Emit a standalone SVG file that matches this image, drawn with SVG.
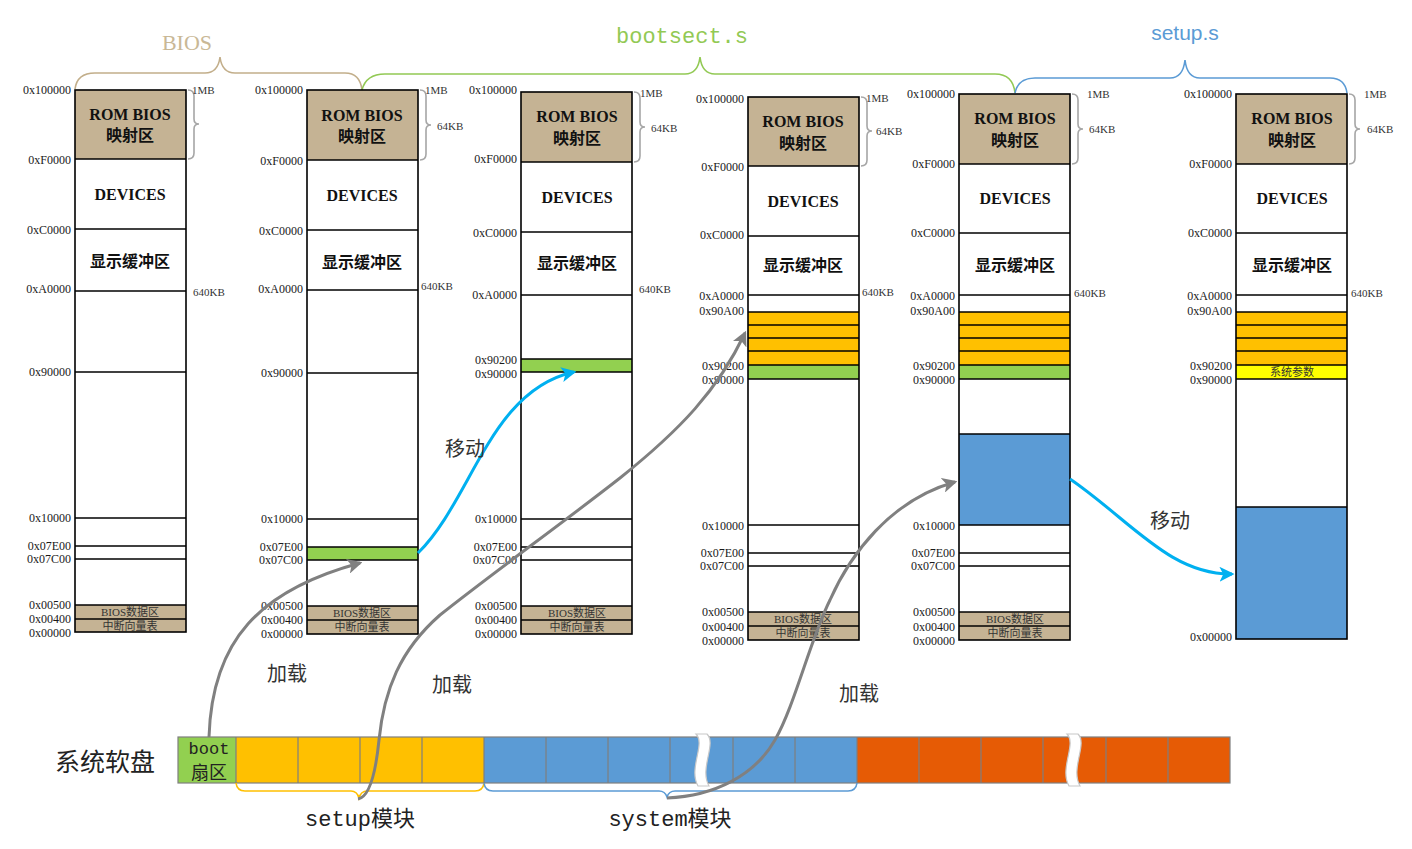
<svg xmlns="http://www.w3.org/2000/svg" width="1412" height="849" viewBox="0 0 1412 849">
<defs>
<style>
.bg{fill:#ffffff}
.col{fill:none;stroke:#000;stroke-width:1.6}
.ln{stroke:#000;stroke-width:1.6}
.rom{fill:#c5b394}
.tan{fill:#c5b394}
.grn{fill:#92d050}
.org{fill:#ffc000}
.blu{fill:#5b9bd5}
.yel{fill:#ffff00}
.addr{font-family:"Liberation Serif",serif;font-size:12px;text-anchor:end;dominant-baseline:central;fill:#1a1a1a}
.rl{font-family:"Liberation Serif",serif;font-size:11px;dominant-baseline:central;fill:#333}
.t1{font-family:"Liberation Serif",serif;font-weight:bold;font-size:16px;text-anchor:middle;dominant-baseline:central;fill:#111}
.t2{font-family:"Noto Sans CJK SC",sans-serif;font-weight:bold;font-size:16px;text-anchor:middle;dominant-baseline:central;fill:#111}
.t3{font-family:"Liberation Serif","Noto Sans CJK SC",serif;font-size:11px;text-anchor:middle;dominant-baseline:central;fill:#333}
.lab{font-family:"Noto Sans CJK SC",sans-serif;font-size:20px;text-anchor:middle;dominant-baseline:central;fill:#333}
.rb{fill:none;stroke:#a6a6a6;stroke-width:1.6}
.cell{stroke:#7f7f7f;stroke-width:1.2}
.garr{fill:none;stroke:#808080;stroke-width:3}
.barr{fill:none;stroke:#00b0f0;stroke-width:3}
</style>
<marker id="ag" viewBox="0 0 12 12" refX="10" refY="6" markerWidth="15" markerHeight="15" markerUnits="userSpaceOnUse" orient="auto">
<path d="M0,0 L12,6 L0,12 L3,6 z" fill="#808080"/>
</marker>
<marker id="ab" viewBox="0 0 12 12" refX="10" refY="6" markerWidth="15" markerHeight="15" markerUnits="userSpaceOnUse" orient="auto">
<path d="M0,0 L12,6 L0,12 L3,6 z" fill="#00b0f0"/>
</marker>
</defs>
<rect class="bg" x="0" y="0" width="1412" height="849"/>

<!-- top braces -->
<g id="phase-labels">
<path d="M75,89 Q77,73 95,73 L205,73 Q218,73 220,57 Q222,73 235,73 L345,73 Q360,73 362,90" fill="none" stroke="#c2ae8a" stroke-width="1.6"/>
<text x="187" y="50" font-family="'Liberation Serif',serif" font-size="22" text-anchor="middle" fill="#c9b896">BIOS</text>
<path d="M362,90 Q366,74 385,74 L685,74 Q698,74 700,57 Q702,74 715,74 L995,74 Q1013,74 1015,93" fill="none" stroke="#92c954" stroke-width="1.6"/>
<text x="682" y="43" font-family="'Liberation Mono',monospace" font-size="22" text-anchor="middle" fill="#92c954">bootsect.s</text>
<path d="M1015,93 Q1018,78 1035,78 L1170,78 Q1183,78 1185,60 Q1187,78 1200,78 L1330,78 Q1345,78 1347,93" fill="none" stroke="#5b9bd5" stroke-width="1.6"/>
<text x="1185" y="40" font-family="'Liberation Sans',sans-serif" font-size="21" text-anchor="middle" fill="#5b9bd5">setup.s</text>
</g>

<!-- column 1 -->
<g id="mem1">
<rect class="rom" x="75" y="90" width="111" height="69"/>
<rect class="tan" x="75" y="605" width="111" height="27"/>
<line class="ln" x1="75" y1="159" x2="186" y2="159"/>
<line class="ln" x1="75" y1="229" x2="186" y2="229"/>
<line class="ln" x1="75" y1="291" x2="186" y2="291"/>
<line class="ln" x1="75" y1="372" x2="186" y2="372"/>
<line class="ln" x1="75" y1="518" x2="186" y2="518"/>
<line class="ln" x1="75" y1="546" x2="186" y2="546"/>
<line class="ln" x1="75" y1="559" x2="186" y2="559"/>
<line class="ln" x1="75" y1="605" x2="186" y2="605"/>
<line class="ln" x1="75" y1="619" x2="186" y2="619"/>
<rect class="col" x="75" y="90" width="111" height="542"/>
<text class="t1" x="130" y="114">ROM BIOS</text>
<text class="t2" x="130" y="134">映射区</text>
<text class="t1" x="130" y="194">DEVICES</text>
<text class="t2" x="130" y="260">显示缓冲区</text>
<text class="t3" x="130" y="612">BIOS数据区</text>
<text class="t3" x="130" y="626">中断向量表</text>
<path class="rb" d="M188,90 Q194,90 194,96 L194,119 Q194,124 199,124 Q194,124 194,129 L194,153 Q194,159 188,159"/>
<text class="rl" x="192" y="90">1MB</text>
<text class="rl" x="193" y="292">640KB</text>
<text class="addr" x="71" y="90">0x100000</text>
<text class="addr" x="71" y="160">0xF0000</text>
<text class="addr" x="71" y="230">0xC0000</text>
<text class="addr" x="71" y="289">0xA0000</text>
<text class="addr" x="71" y="372">0x90000</text>
<text class="addr" x="71" y="518">0x10000</text>
<text class="addr" x="71" y="546">0x07E00</text>
<text class="addr" x="71" y="559">0x07C00</text>
<text class="addr" x="71" y="605">0x00500</text>
<text class="addr" x="71" y="619">0x00400</text>
<text class="addr" x="71" y="633">0x00000</text>
</g>

<!-- column 2 -->
<g id="mem2">
<rect class="rom" x="307" y="90" width="111" height="70"/>
<rect class="grn" x="307" y="547" width="111" height="13"/>
<rect class="tan" x="307" y="606" width="111" height="28"/>
<line class="ln" x1="307" y1="160" x2="418" y2="160"/>
<line class="ln" x1="307" y1="230" x2="418" y2="230"/>
<line class="ln" x1="307" y1="290" x2="418" y2="290"/>
<line class="ln" x1="307" y1="373" x2="418" y2="373"/>
<line class="ln" x1="307" y1="519" x2="418" y2="519"/>
<line class="ln" x1="307" y1="547" x2="418" y2="547"/>
<line class="ln" x1="307" y1="560" x2="418" y2="560"/>
<line class="ln" x1="307" y1="606" x2="418" y2="606"/>
<line class="ln" x1="307" y1="620" x2="418" y2="620"/>
<rect class="col" x="307" y="90" width="111" height="544"/>
<text class="t1" x="362" y="115">ROM BIOS</text>
<text class="t2" x="362" y="135">映射区</text>
<text class="t1" x="362" y="195">DEVICES</text>
<text class="t2" x="362" y="261">显示缓冲区</text>
<text class="t3" x="362" y="613">BIOS数据区</text>
<text class="t3" x="362" y="627">中断向量表</text>
<path class="rb" d="M420,90 Q426,90 426,96 L426,120 Q426,125 431,125 Q426,125 426,130 L426,154 Q426,160 420,160"/>
<text class="rl" x="425" y="90">1MB</text>
<text class="rl" x="437" y="126">64KB</text>
<text class="rl" x="421" y="286">640KB</text>
<text class="addr" x="303" y="90">0x100000</text>
<text class="addr" x="303" y="161">0xF0000</text>
<text class="addr" x="303" y="231">0xC0000</text>
<text class="addr" x="303" y="289">0xA0000</text>
<text class="addr" x="303" y="373">0x90000</text>
<text class="addr" x="303" y="519">0x10000</text>
<text class="addr" x="303" y="547">0x07E00</text>
<text class="addr" x="303" y="560">0x07C00</text>
<text class="addr" x="303" y="606">0x00500</text>
<text class="addr" x="303" y="620">0x00400</text>
<text class="addr" x="303" y="634">0x00000</text>
</g>

<!-- column 3 -->
<g id="mem3">
<rect class="rom" x="521" y="92" width="111" height="70"/>
<rect class="grn" x="521" y="359" width="111" height="13"/>
<rect class="tan" x="521" y="606" width="111" height="28"/>
<line class="ln" x1="521" y1="162" x2="632" y2="162"/>
<line class="ln" x1="521" y1="232" x2="632" y2="232"/>
<line class="ln" x1="521" y1="295" x2="632" y2="295"/>
<line class="ln" x1="521" y1="359" x2="632" y2="359"/>
<line class="ln" x1="521" y1="372" x2="632" y2="372"/>
<line class="ln" x1="521" y1="519" x2="632" y2="519"/>
<line class="ln" x1="521" y1="547" x2="632" y2="547"/>
<line class="ln" x1="521" y1="560" x2="632" y2="560"/>
<line class="ln" x1="521" y1="606" x2="632" y2="606"/>
<line class="ln" x1="521" y1="620" x2="632" y2="620"/>
<rect class="col" x="521" y="92" width="111" height="542"/>
<text class="t1" x="577" y="116">ROM BIOS</text>
<text class="t2" x="577" y="137">映射区</text>
<text class="t1" x="577" y="197">DEVICES</text>
<text class="t2" x="577" y="262">显示缓冲区</text>
<text class="t3" x="577" y="613">BIOS数据区</text>
<text class="t3" x="577" y="627">中断向量表</text>
<path class="rb" d="M634,92 Q640,92 640,98 L640,122 Q640,127 645,127 Q640,127 640,132 L640,156 Q640,162 634,162"/>
<text class="rl" x="640" y="93">1MB</text>
<text class="rl" x="651" y="128">64KB</text>
<text class="rl" x="639" y="289">640KB</text>
<text class="addr" x="517" y="90">0x100000</text>
<text class="addr" x="517" y="159">0xF0000</text>
<text class="addr" x="517" y="233">0xC0000</text>
<text class="addr" x="517" y="295">0xA0000</text>
<text class="addr" x="517" y="360">0x90200</text>
<text class="addr" x="517" y="374">0x90000</text>
<text class="addr" x="517" y="519">0x10000</text>
<text class="addr" x="517" y="547">0x07E00</text>
<text class="addr" x="517" y="560">0x07C00</text>
<text class="addr" x="517" y="606">0x00500</text>
<text class="addr" x="517" y="620">0x00400</text>
<text class="addr" x="517" y="634">0x00000</text>
</g>

<!-- column 4 -->
<g id="mem4">
<rect class="rom" x="748" y="97" width="111" height="69"/>
<rect class="org" x="748" y="312" width="111" height="53"/>
<rect class="grn" x="748" y="365" width="111" height="14"/>
<rect class="tan" x="748" y="612" width="111" height="28"/>
<line class="ln" x1="748" y1="166" x2="859" y2="166"/>
<line class="ln" x1="748" y1="236" x2="859" y2="236"/>
<line class="ln" x1="748" y1="295" x2="859" y2="295"/>
<line class="ln" x1="748" y1="312" x2="859" y2="312"/>
<line class="ln" x1="748" y1="325" x2="859" y2="325"/>
<line class="ln" x1="748" y1="338" x2="859" y2="338"/>
<line class="ln" x1="748" y1="351" x2="859" y2="351"/>
<line class="ln" x1="748" y1="365" x2="859" y2="365"/>
<line class="ln" x1="748" y1="379" x2="859" y2="379"/>
<line class="ln" x1="748" y1="525" x2="859" y2="525"/>
<line class="ln" x1="748" y1="553" x2="859" y2="553"/>
<line class="ln" x1="748" y1="566" x2="859" y2="566"/>
<line class="ln" x1="748" y1="612" x2="859" y2="612"/>
<line class="ln" x1="748" y1="626" x2="859" y2="626"/>
<rect class="col" x="748" y="97" width="111" height="543"/>
<text class="t1" x="803" y="121">ROM BIOS</text>
<text class="t2" x="803" y="142">映射区</text>
<text class="t1" x="803" y="201">DEVICES</text>
<text class="t2" x="803" y="264">显示缓冲区</text>
<text class="t3" x="803" y="619">BIOS数据区</text>
<text class="t3" x="803" y="633">中断向量表</text>
<path class="rb" d="M861,97 Q867,97 867,103 L867,126 Q867,131 872,131 Q867,131 867,136 L867,160 Q867,166 861,166"/>
<text class="rl" x="866" y="98">1MB</text>
<text class="rl" x="876" y="131">64KB</text>
<text class="rl" x="862" y="292">640KB</text>
<text class="addr" x="744" y="99">0x100000</text>
<text class="addr" x="744" y="167">0xF0000</text>
<text class="addr" x="744" y="235">0xC0000</text>
<text class="addr" x="744" y="296">0xA0000</text>
<text class="addr" x="744" y="311">0x90A00</text>
<text class="addr" x="744" y="366">0x90200</text>
<text class="addr" x="744" y="380">0x90000</text>
<text class="addr" x="744" y="526">0x10000</text>
<text class="addr" x="744" y="553">0x07E00</text>
<text class="addr" x="744" y="566">0x07C00</text>
<text class="addr" x="744" y="612">0x00500</text>
<text class="addr" x="744" y="627">0x00400</text>
<text class="addr" x="744" y="641">0x00000</text>
</g>

<!-- column 5 -->
<g id="mem5">
<rect class="rom" x="959" y="94" width="111" height="70"/>
<rect class="org" x="959" y="312" width="111" height="53"/>
<rect class="grn" x="959" y="365" width="111" height="14"/>
<rect class="blu" x="959" y="434" width="111" height="91"/>
<rect class="tan" x="959" y="612" width="111" height="28"/>
<line class="ln" x1="959" y1="164" x2="1070" y2="164"/>
<line class="ln" x1="959" y1="233" x2="1070" y2="233"/>
<line class="ln" x1="959" y1="295" x2="1070" y2="295"/>
<line class="ln" x1="959" y1="312" x2="1070" y2="312"/>
<line class="ln" x1="959" y1="325" x2="1070" y2="325"/>
<line class="ln" x1="959" y1="338" x2="1070" y2="338"/>
<line class="ln" x1="959" y1="351" x2="1070" y2="351"/>
<line class="ln" x1="959" y1="365" x2="1070" y2="365"/>
<line class="ln" x1="959" y1="379" x2="1070" y2="379"/>
<line class="ln" x1="959" y1="434" x2="1070" y2="434"/>
<line class="ln" x1="959" y1="525" x2="1070" y2="525"/>
<line class="ln" x1="959" y1="553" x2="1070" y2="553"/>
<line class="ln" x1="959" y1="566" x2="1070" y2="566"/>
<line class="ln" x1="959" y1="612" x2="1070" y2="612"/>
<line class="ln" x1="959" y1="626" x2="1070" y2="626"/>
<rect class="col" x="959" y="94" width="111" height="546"/>
<text class="t1" x="1015" y="118">ROM BIOS</text>
<text class="t2" x="1015" y="139">映射区</text>
<text class="t1" x="1015" y="198">DEVICES</text>
<text class="t2" x="1015" y="264">显示缓冲区</text>
<text class="t3" x="1015" y="619">BIOS数据区</text>
<text class="t3" x="1015" y="633">中断向量表</text>
<path class="rb" d="M1072,94 Q1078,94 1078,100 L1078,124 Q1078,129 1083,129 Q1078,129 1078,134 L1078,158 Q1078,164 1072,164"/>
<text class="rl" x="1087" y="94">1MB</text>
<text class="rl" x="1089" y="129">64KB</text>
<text class="rl" x="1074" y="293">640KB</text>
<text class="addr" x="955" y="94">0x100000</text>
<text class="addr" x="955" y="164">0xF0000</text>
<text class="addr" x="955" y="233">0xC0000</text>
<text class="addr" x="955" y="296">0xA0000</text>
<text class="addr" x="955" y="311">0x90A00</text>
<text class="addr" x="955" y="366">0x90200</text>
<text class="addr" x="955" y="380">0x90000</text>
<text class="addr" x="955" y="526">0x10000</text>
<text class="addr" x="955" y="553">0x07E00</text>
<text class="addr" x="955" y="566">0x07C00</text>
<text class="addr" x="955" y="612">0x00500</text>
<text class="addr" x="955" y="627">0x00400</text>
<text class="addr" x="955" y="641">0x00000</text>
</g>

<!-- column 6 -->
<g id="mem6">
<rect class="rom" x="1236" y="94" width="111" height="70"/>
<rect class="org" x="1236" y="312" width="111" height="53"/>
<rect class="yel" x="1236" y="365" width="111" height="14"/>
<rect class="blu" x="1236" y="507" width="111" height="132"/>
<line class="ln" x1="1236" y1="164" x2="1347" y2="164"/>
<line class="ln" x1="1236" y1="233" x2="1347" y2="233"/>
<line class="ln" x1="1236" y1="295" x2="1347" y2="295"/>
<line class="ln" x1="1236" y1="312" x2="1347" y2="312"/>
<line class="ln" x1="1236" y1="325" x2="1347" y2="325"/>
<line class="ln" x1="1236" y1="338" x2="1347" y2="338"/>
<line class="ln" x1="1236" y1="351" x2="1347" y2="351"/>
<line class="ln" x1="1236" y1="365" x2="1347" y2="365"/>
<line class="ln" x1="1236" y1="379" x2="1347" y2="379"/>
<line class="ln" x1="1236" y1="507" x2="1347" y2="507"/>
<rect class="col" x="1236" y="94" width="111" height="545"/>
<text class="t1" x="1292" y="118">ROM BIOS</text>
<text class="t2" x="1292" y="139">映射区</text>
<text class="t1" x="1292" y="198">DEVICES</text>
<text class="t2" x="1292" y="264">显示缓冲区</text>
<text class="t3" x="1292" y="372">系统参数</text>
<path class="rb" d="M1349,94 Q1355,94 1355,100 L1355,124 Q1355,129 1360,129 Q1355,129 1355,134 L1355,158 Q1355,164 1349,164"/>
<text class="rl" x="1364" y="94">1MB</text>
<text class="rl" x="1367" y="129">64KB</text>
<text class="rl" x="1351" y="293">640KB</text>
<text class="addr" x="1232" y="94">0x100000</text>
<text class="addr" x="1232" y="164">0xF0000</text>
<text class="addr" x="1232" y="233">0xC0000</text>
<text class="addr" x="1232" y="296">0xA0000</text>
<text class="addr" x="1232" y="311">0x90A00</text>
<text class="addr" x="1232" y="366">0x90200</text>
<text class="addr" x="1232" y="380">0x90000</text>
<text class="addr" x="1232" y="637">0x00000</text>
</g>

<!-- floppy -->
<g id="floppy">
<text x="55" y="771" font-family="'Noto Sans CJK SC',sans-serif" font-size="25" fill="#222">系统软盘</text>
<rect class="grn" x="178" y="737" width="58" height="46"/>
<rect class="org" x="236" y="737" width="248" height="46"/>
<rect class="blu" x="484" y="737" width="373" height="46"/>
<rect x="857" y="737" width="373" height="46" fill="#e65b05"/>
<line class="cell" x1="236" y1="737" x2="236" y2="783"/>
<line class="cell" x1="298" y1="737" x2="298" y2="783"/>
<line class="cell" x1="360" y1="737" x2="360" y2="783"/>
<line class="cell" x1="422" y1="737" x2="422" y2="783"/>
<line class="cell" x1="484" y1="737" x2="484" y2="783"/>
<line class="cell" x1="546" y1="737" x2="546" y2="783"/>
<line class="cell" x1="608" y1="737" x2="608" y2="783"/>
<line class="cell" x1="670" y1="737" x2="670" y2="783"/>
<line class="cell" x1="733" y1="737" x2="733" y2="783"/>
<line class="cell" x1="795" y1="737" x2="795" y2="783"/>
<line class="cell" x1="857" y1="737" x2="857" y2="783"/>
<line class="cell" x1="919" y1="737" x2="919" y2="783"/>
<line class="cell" x1="981" y1="737" x2="981" y2="783"/>
<line class="cell" x1="1043" y1="737" x2="1043" y2="783"/>
<line class="cell" x1="1106" y1="737" x2="1106" y2="783"/>
<line class="cell" x1="1168" y1="737" x2="1168" y2="783"/>
<rect x="178" y="737" width="1052" height="46" fill="none" stroke="#7f7f7f" stroke-width="1.2"/>
<path d="M696,734 C706,744 688,768 698,786 L709,786 C699,768 717,744 707,734 Z" fill="#fff" stroke="#c8c8c8" stroke-width="1.2"/>
<path d="M1067,734 C1077,744 1059,768 1069,786 L1080,786 C1070,768 1088,744 1078,734 Z" fill="#fff" stroke="#c8c8c8" stroke-width="1.2"/>
<text x="209" y="754" font-family="'Liberation Mono',monospace" font-size="17" text-anchor="middle" fill="#222">boot</text>
<text x="209" y="779" font-family="'Noto Sans CJK SC',sans-serif" font-size="18" text-anchor="middle" fill="#222">扇区</text>
<path d="M236,783 Q237,791 245,791 L351,791 Q357,791 359,798 Q361,791 367,791 L475,791 Q483,791 484,783" fill="none" stroke="#ffc000" stroke-width="1.6"/>
<path d="M484,783 Q485,791 493,791 L659,791 Q665,791 667,797 Q669,791 675,791 L848,791 Q856,791 857,783" fill="none" stroke="#5b9bd5" stroke-width="1.6"/>
<text x="360" y="826" font-family="'Liberation Mono','Noto Sans CJK SC',monospace" font-size="22" text-anchor="middle" fill="#222">setup模块</text>
<text x="670" y="826" font-family="'Liberation Mono','Noto Sans CJK SC',monospace" font-size="22" text-anchor="middle" fill="#222">system模块</text>
</g>

<!-- connectors -->
<g id="connectors">
<path class="garr" d="M209,737 C212,640 260,590 360,563" marker-end="url(#ag)"/>
<path class="garr" d="M358,799 C370,797 376,770 379,740 C384,690 400,650 440,615 C490,575 560,525 620,478 C680,430 718,390 745,333" marker-end="url(#ag)"/>
<path class="garr" d="M667,798 C715,796 755,775 775,740 C795,705 810,640 830,600 C850,555 890,500 955,482" marker-end="url(#ag)"/>
<path class="barr" d="M418,553 C472,500 490,390 574,372" marker-end="url(#ab)"/>
<path class="barr" d="M1070,479 C1130,520 1170,575 1232,574" marker-end="url(#ab)"/>
<text class="lab" x="287" y="672">加载</text>
<text class="lab" x="452" y="683">加载</text>
<text class="lab" x="859" y="692">加载</text>
<text class="lab" x="465" y="447">移动</text>
<text class="lab" x="1170" y="519">移动</text>
</g>
</svg>
